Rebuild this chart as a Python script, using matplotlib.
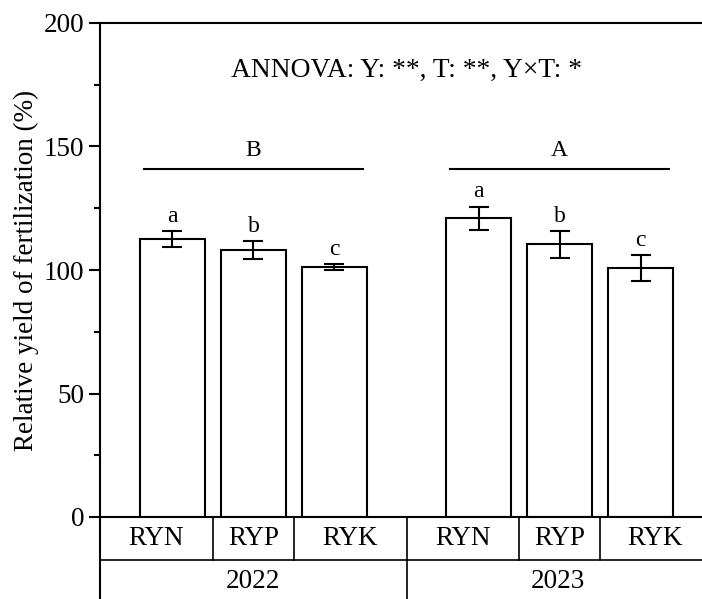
import matplotlib
matplotlib.use("Agg")
import matplotlib.pyplot as plt
import matplotlib.transforms as mtrans
import numpy as np

plt.rcParams['font.family'] = ['Liberation Serif', 'DejaVu Serif']
plt.rcParams['mathtext.fontset'] = 'stix'

# relative yield of fertilization (%), mean and error
years = ["2022", "2023"]
treatments = ["RYN", "RYP", "RYK"]
yield_2022 = [112.6, 108.1, 101.2]
err_2022 = [3.3, 3.6, 1.2]
yield_2023 = [120.9, 110.4, 100.9]
err_2023 = [4.8, 5.4, 5.3]
letters_2022 = ["a", "b", "c"]
letters_2023 = ["a", "b", "c"]
year_letters = ["B", "A"]
anova_text = "ANNOVA: Y: **, T: **, Y×T: *"

values = yield_2022 + yield_2023
errs = err_2022 + err_2023
letters = letters_2022 + letters_2023

gap = 1.78
pos = np.array([0, 1, 2, 2 + gap, 3 + gap, 4 + gap])
xmin, xmax = -0.895, 6.636

fig = plt.figure(figsize=(7.02, 5.99), dpi=100)
ax = fig.add_axes([100 / 702, 1 - 517 / 599, (710 - 100) / 702, (517 - 23) / 599])

ax.bar(pos, values, width=0.8, color="white", edgecolor="black", linewidth=1.5, zorder=2)
ax.errorbar(pos, values, yerr=errs, fmt="none", ecolor="black", elinewidth=1.5,
            capsize=7.2, capthick=1.5, zorder=3)

for x, v, e, l in zip(pos, values, errs, letters):
    ax.annotate(l, (x, v + e), xytext=(0, 3), textcoords="offset points",
                ha="center", va="bottom", fontsize=17)

# year grouping lines with letters
for g, lab in enumerate(year_letters):
    x0 = pos[3 * g] - 0.35
    x1 = pos[3 * g + 2] + 0.35
    ax.plot([x0, x1], [141, 141], color="black", lw=1.5)
    ax.text((x0 + x1) / 2, 144, lab, ha="center", va="bottom", fontsize=17)

ax.text((pos[2] + pos[3]) / 2, 181, anova_text, ha="center", va="center", fontsize=19.8)

ax.set_xlim(xmin, xmax)
ax.set_ylim(0, 200)
ax.set_yticks([0, 50, 100, 150, 200])
ax.set_yticks([25, 75, 125, 175], minor=True)
ax.set_xticks([])
ax.tick_params(axis="y", which="major", direction="out", length=8, width=1.5, labelsize=19.5)
ax.tick_params(axis="y", which="minor", direction="out", length=4, width=1.5)
for s in ax.spines.values():
    s.set_linewidth(1.5)
ax.set_ylabel("Relative yield of fertilization (%)", fontsize=19.5, labelpad=3)

# category table under the axis
tr = mtrans.blended_transform_factory(ax.transData, ax.transAxes)
row_h = 43 / 494
mids = [(pos[i] + pos[i + 1]) / 2 for i in range(len(pos) - 1)]
bounds = [xmin] + mids + [xmax]
ax.plot([xmin, xmin], [0, -0.2], color="black", lw=1.5, transform=tr, clip_on=False)
ax.plot([xmin, xmax], [-row_h, -row_h], color="black", lw=1.2, transform=tr, clip_on=False)
for b in mids:
    ax.plot([b, b], [0, -row_h], color="black", lw=1.2, transform=tr, clip_on=False)
ax.plot([mids[2], mids[2]], [-row_h, -0.2], color="black", lw=1.2, transform=tr, clip_on=False)
labels = treatments * len(years)
for i, lab in enumerate(labels):
    ax.text((bounds[i] + bounds[i + 1]) / 2, -row_h / 2, lab, ha="center", va="center",
            fontsize=19.5, transform=tr, clip_on=False)
for g, yr in enumerate(years):
    ax.text((bounds[3 * g] + bounds[3 * g + 3]) / 2, -1.5 * row_h, yr, ha="center",
            va="center", fontsize=19.5, transform=tr, clip_on=False)

fig.savefig("out.png", dpi=100)
